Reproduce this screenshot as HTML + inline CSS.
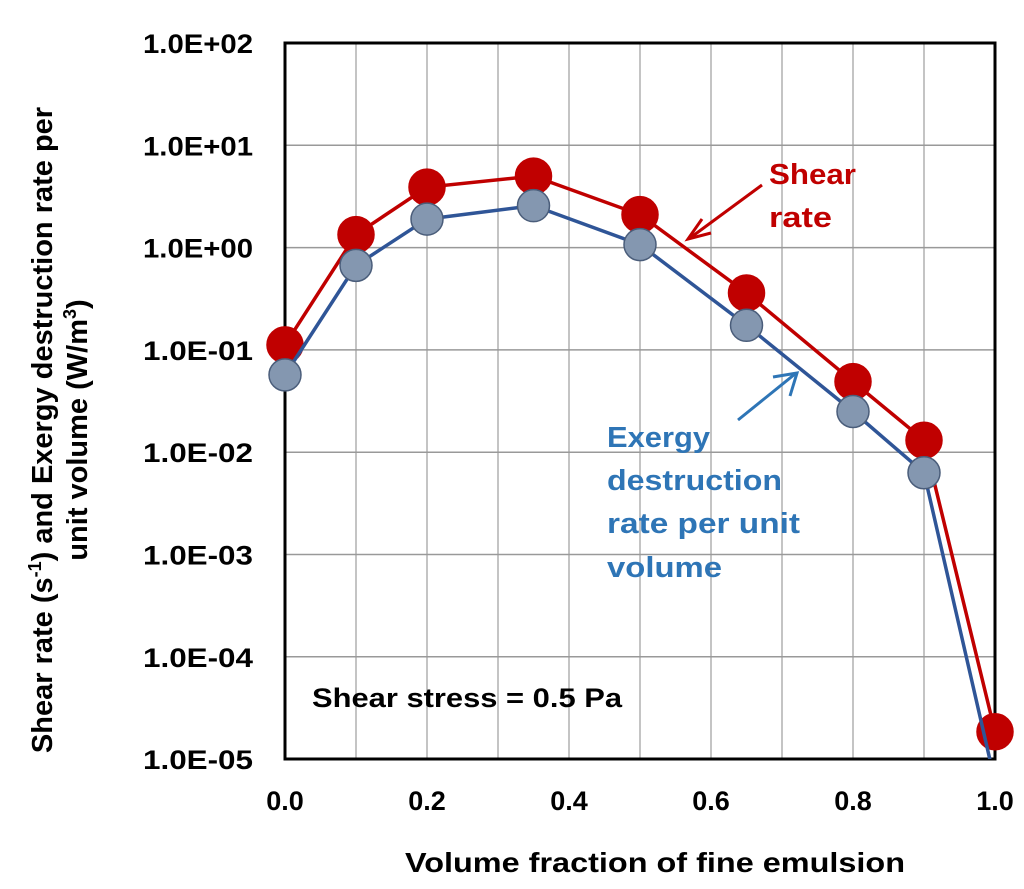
<!DOCTYPE html>
<html><head><meta charset="utf-8"><style>
body{margin:0;background:#fff;}
svg{display:block;font-family:"Liberation Sans",Arial,sans-serif;font-weight:bold;}
</style></head><body>
<svg id="chart" width="1024" height="889" viewBox="0 0 1024 889">
<defs><clipPath id="plotclip"><rect x="285" y="43" width="710" height="716"/></clipPath></defs>
<g id="grid"></g>
<rect x="285" y="43" width="710" height="716" fill="none" stroke="#000" stroke-width="3"/>
<g id="yticks" font-size="27" text-anchor="end"></g>
<g id="xticks" font-size="27" text-anchor="middle"></g>
<g id="series"></g>
<text x="405" y="872" font-size="28" textLength="500" lengthAdjust="spacingAndGlyphs">Volume fraction of fine emulsion</text>
<text transform="translate(52,430) rotate(-90)" font-size="29" text-anchor="middle"><tspan x="0" dy="0">Shear rate (s<tspan font-size="18" dy="-11">-1</tspan><tspan dy="11">) and Exergy destruction rate per</tspan></tspan><tspan x="0" dy="35">unit volume (W/m<tspan font-size="18" dy="-11">3</tspan><tspan dy="11">)</tspan></tspan></text>
<text x="312" y="707" font-size="27" textLength="310" lengthAdjust="spacingAndGlyphs">Shear stress = 0.5 Pa</text>
<text x="769" y="184" font-size="29" textLength="87" lengthAdjust="spacingAndGlyphs" fill="#c00000">Shear</text>
<text x="769" y="227" font-size="29" textLength="63" lengthAdjust="spacingAndGlyphs" fill="#c00000">rate</text>
<line x1="762" y1="185" x2="690" y2="238" stroke="#c00000" stroke-width="3"/>
<polyline points="702,219 688,239 711,233" fill="none" stroke="#c00000" stroke-width="3"/>
<g font-size="29" fill="#2e75b6">
<text x="607" y="447" textLength="103" lengthAdjust="spacingAndGlyphs">Exergy</text><text x="607" y="490" textLength="175" lengthAdjust="spacingAndGlyphs">destruction</text><text x="607" y="533" textLength="193" lengthAdjust="spacingAndGlyphs">rate per unit</text><text x="607" y="577" textLength="115" lengthAdjust="spacingAndGlyphs">volume</text></g>
<line x1="738" y1="420" x2="795" y2="374" stroke="#2e75b6" stroke-width="3"/>
<polyline points="773,377 797,373 790,396" fill="none" stroke="#2e75b6" stroke-width="3"/>
</svg>
<script>
const xValues=[0,0.1,0.2,0.35,0.5,0.65,0.8,0.9,1.0];
const shearRate=[0.112,1.34,3.9,5.0,2.1,0.36,0.049,0.0131,1.85e-5];
const exergy=[0.057,0.67,1.9,2.57,1.07,0.174,0.025,0.0063,6e-6];
const yTickLabels=["1.0E+02","1.0E+01","1.0E+00","1.0E-01","1.0E-02","1.0E-03","1.0E-04","1.0E-05"];
const xTickLabels=["0.0","0.2","0.4","0.6","0.8","1.0"];
const NS="http://www.w3.org/2000/svg";
const X=v=>285+v*710, Y=v=>43+(2-Math.log10(v))*102.3;
function mk(t,a,p){const e=document.createElementNS(NS,t);for(const k in a)e.setAttribute(k,a[k]);p.appendChild(e);return e;}
const grid=document.getElementById('grid');
for(let i=1;i<10;i++){const l=mk('line',{x1:X(i/10),x2:X(i/10),y1:43,y2:759,stroke:'#b0b0b0','stroke-width':1.5},grid);

}
for(let i=1;i<7;i++){const l=mk('line',{x1:285,x2:995,y1:Y(Math.pow(10,2-i)),y2:Y(Math.pow(10,2-i)),stroke:'#999','stroke-width':1.5},grid);

}
const yt=document.getElementById('yticks');
yTickLabels.forEach((s,i)=>{const t=mk('text',{x:253,y:Y(Math.pow(10,2-i))+10,textLength:110,lengthAdjust:'spacingAndGlyphs'},yt);t.textContent=s;

});
const xt=document.getElementById('xticks');
xTickLabels.forEach((s,i)=>{const t=mk('text',{x:X(i*0.2),y:810},xt);t.textContent=s;

});
const sg=document.getElementById('series');
function series(vals,col,fill,r,name,stroke){
const pl=mk('polyline',{points:vals.map((v,i)=>X(xValues[i])+','+Y(v)).join(' '),fill:'none',stroke:col,'stroke-width':3.5,'clip-path':'url(#plotclip)'},sg);


vals.forEach((v,i)=>{if(Y(v)>760)return;const c=mk('circle',{cx:X(xValues[i]),cy:Y(v),r:r,fill:fill,stroke:stroke,'stroke-width':1.5},sg);

});}
series(shearRate,'#c00000','#c00000',18,'shear-rate','#c00000');
series(exergy,'#2f5597','#8497b0',16,'exergy','#4a5d7a');
</script>
</body></html>
